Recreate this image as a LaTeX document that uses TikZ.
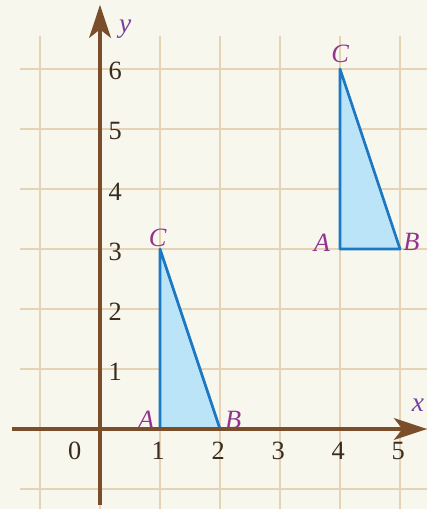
\documentclass[tikz,border=0pt]{standalone}
\usepackage{fontspec}
\setmainfont{Liberation Serif}
\usepackage{xcolor}
\usepackage{tikz}
\usetikzlibrary{arrows.meta}

\definecolor{paper}{HTML}{F7F7EE}
\definecolor{gridtan}{HTML}{E6D2B4}
\definecolor{axisbrown}{HTML}{7A4E2B}
\definecolor{trifill}{HTML}{BCE4F8}
\definecolor{triline}{HTML}{1B78C2}
\definecolor{ptlabel}{HTML}{93338F}
\definecolor{axlabel}{HTML}{7840A0}
\definecolor{numtext}{HTML}{3A2B1E}

\tikzset{
  gridline/.style={draw=gridtan, line width=0.9pt},
  axisline/.style={draw=axisbrown, line width=1.9pt,
    -{Stealth[length=0.55cm, width=0.36cm, inset=0.14cm]}},
  tri/.style={draw=triline, fill=trifill, line width=1.3pt, line join=round},
  numlabel/.style={text=numtext, inner sep=1pt, font=\fontsize{12.5}{14}\selectfont},
  ptname/.style={text=ptlabel, inner sep=1pt, font=\fontsize{12.5}{14}\selectfont\itshape},
  axname/.style={text=axlabel, inner sep=1pt, font=\fontsize{13}{15}\selectfont\itshape}
}

\begin{document}
\begin{tikzpicture}
    \fill[paper] (-1.667,-1.333) rectangle (5.45,7.15);
    \useasboundingbox (-1.667,-1.333) rectangle (5.45,7.15);
    % grid
    \foreach \gx in {-1,...,5}
      \draw[gridline] (\gx,-1.333) -- (\gx,6.55);
    \foreach \gy in {-1,...,6}
      \draw[gridline] (-1.333,\gy) -- (5.45,\gy);
    % triangles
    \coordinate (A1) at (1,0);
    \coordinate (B1) at (2,0);
    \coordinate (C1) at (1,3);
    \coordinate (A2) at (4,3);
    \coordinate (B2) at (5,3);
    \coordinate (C2) at (4,6);
    \filldraw[tri] (A1) -- (B1) -- (C1) -- cycle;
    \filldraw[tri] (A2) -- (B2) -- (C2) -- cycle;
    % axes
    \coordinate (xstart) at (-1.47,0);
    \coordinate (xend) at (5.45,0);
    \coordinate (ystart) at (0,-1.27);
    \coordinate (yend) at (0,7.07);
    \draw[axisline] (xstart) -- (xend);
    \draw[axisline] (ystart) -- (yend);
    \node[axname] (xname) at (5.3,0.4) {x};
    \node[axname] (yname) at (0.42,6.67) {y};
    % numbers
    \node[numlabel] (n0) at (-0.42,-0.36) {0};
    \foreach \k in {1,...,5}
      \node[numlabel] (nx\k) at (\k-0.03,-0.37) {\k};
    \foreach \k in {1,...,6}
      \node[numlabel, anchor=west] (ny\k) at (0.1,\k-0.04) {\k};
    % vertex names
    \node[ptname] (lA1) at (0.77,0.15) {A};
    \node[ptname] (lB1) at (2.22,0.15) {B};
    \node[ptname] (lC1) at (0.96,3.19) {C};
    \node[ptname] (lA2) at (3.7,3.1) {A};
    \node[ptname] (lB2) at (5.19,3.12) {B};
    \node[ptname] (lC2) at (4,6.25) {C};
\end{tikzpicture}
\end{document}
